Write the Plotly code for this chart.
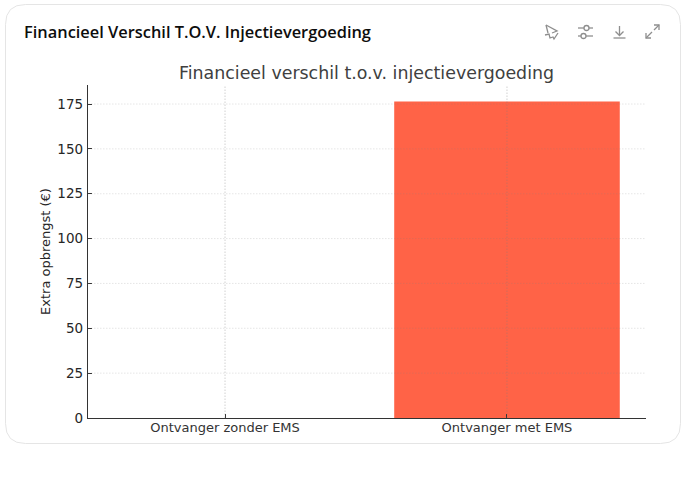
import plotly.graph_objects as go

categories = ["Ontvanger zonder EMS", "Ontvanger met EMS"]
extra_opbrengst = [0, 176.4]
y_ticks = [0, 25, 50, 75, 100, 125, 150, 175]

W, H = 686, 500
LEFT, RIGHT, TOP, BOTTOM = 88, 646, 85, 418


def px_x(x):
    return (x - LEFT) / (RIGHT - LEFT)


def px_y(y):
    return (BOTTOM - y) / (BOTTOM - TOP)


def path(points, close=False):
    s = "M " + " L ".join(f"{px_x(x):.5f},{px_y(y):.5f}" for x, y in points)
    return s + (" Z" if close else "")


def card_path(x0, y0, x1, y1, r):
    # rounded corners, quadratic is close enough here
    return (
        f"M {px_x(x0 + r):.5f},{px_y(y0):.5f} L {px_x(x1 - r):.5f},{px_y(y0):.5f} "
        f"Q {px_x(x1):.5f},{px_y(y0):.5f} {px_x(x1):.5f},{px_y(y0 + r):.5f} "
        f"L {px_x(x1):.5f},{px_y(y1 - r):.5f} "
        f"Q {px_x(x1):.5f},{px_y(y1):.5f} {px_x(x1 - r):.5f},{px_y(y1):.5f} "
        f"L {px_x(x0 + r):.5f},{px_y(y1):.5f} "
        f"Q {px_x(x0):.5f},{px_y(y1):.5f} {px_x(x0):.5f},{px_y(y1 - r):.5f} "
        f"L {px_x(x0):.5f},{px_y(y0 + r):.5f} "
        f"Q {px_x(x0):.5f},{px_y(y0):.5f} {px_x(x0 + r):.5f},{px_y(y0):.5f} Z"
    )


ICON_COLOR = "#8e8e8e"
GRID_DASH = "1.5px,1.5px"
icon_lines = [
    # chart type toggle
    [(546, 25), (557, 31), (552, 33)],
    [(546, 25), (548, 33)],
    [(545, 35), (549, 34), (550, 38), (553, 37), (554, 39), (558, 33)],
    # settings sliders
    [(578, 28), (584, 28)], [(589, 28), (593, 28)],
    [(578, 36), (581, 36)], [(586, 36), (593, 36)],
    # download
    [(619.5, 26), (619.5, 35)], [(615.5, 31.5), (619.5, 35.5), (623.5, 31.5)], [(613.5, 38), (625.5, 38)],
    # expand
    [(646, 38), (652, 32)], [(646, 33), (646, 38), (651, 38)],
    [(654, 30), (659, 25)], [(654, 25), (659, 25), (659, 30)],
]

shapes = [
    dict(type="path", xref="paper", yref="paper", path=card_path(5.5, 4.5, 680.5, 443.5, 20),
         line=dict(color="#e5e5e5", width=1), fillcolor="rgba(0,0,0,0)", layer="below"),
    # knobs of the sliders icon
    dict(type="circle", xref="paper", yref="paper", x0=px_x(584), x1=px_x(589), y0=px_y(30.5), y1=px_y(25.5),
         line=dict(color=ICON_COLOR, width=1.3)),
    dict(type="circle", xref="paper", yref="paper", x0=px_x(581), x1=px_x(586), y0=px_y(38.5), y1=px_y(33.5),
         line=dict(color=ICON_COLOR, width=1.3)),
]
# the grid runs over the bar in the reference, so shapes rather than axis grid
for c in categories:
    shapes.append(dict(type="line", xref="x", yref="paper", x0=c, x1=c, y0=0, y1=1, layer="above",
                       line=dict(color="rgba(128,128,128,0.36)", width=1, dash=GRID_DASH)))
for t in y_ticks[1:]:
    shapes.append(dict(type="line", xref="paper", yref="y", x0=0, x1=1, y0=t, y1=t, layer="above",
                       line=dict(color="rgba(128,128,128,0.25)", width=0.8, dash=GRID_DASH)))
for pts in icon_lines:
    shapes.append(dict(type="path", xref="paper", yref="paper", path=path(pts),
                       line=dict(color=ICON_COLOR, width=1.3)))

fig = go.Figure(go.Bar(x=categories, y=extra_opbrengst, width=0.8,
                       marker=dict(color="#ff6347", line=dict(width=0))))

fig.update_layout(
    width=W, height=H,
    margin=dict(l=LEFT, r=W - RIGHT, t=TOP, b=H - BOTTOM, pad=0),
    paper_bgcolor="white", plot_bgcolor="white",
    showlegend=False,
    font=dict(family="DejaVu Sans", size=13, color="#262626"),
    shapes=shapes,
    annotations=[
        dict(text="Financieel Verschil T.O.V. Injectievergoeding", xref="paper", yref="paper",
             x=px_x(22), y=px_y(32), xanchor="left", yanchor="middle", showarrow=False,
             font=dict(family="Open Sans", size=16.4, color="#0d0d0d", weight=600)),
        dict(text="Financieel verschil t.o.v. injectievergoeding", xref="paper", yref="paper",
             x=px_x(366), y=px_y(73), xanchor="center", yanchor="middle", showarrow=False,
             font=dict(family="DejaVu Sans", size=17.4, color="#404040")),
    ],
)
fig.update_xaxes(
    range=[-0.486, 1.493], showgrid=False, zeroline=False,
    showline=True, linecolor="#333333", linewidth=1.4,
    ticks="inside", ticklen=4, tickcolor="#333333", ticklabelstandoff=-3,
    tickfont=dict(size=13, color="#333333"),
)
fig.update_yaxes(
    range=[0, 185.6], tickvals=y_ticks, zeroline=False, showgrid=False,
    showline=True, linecolor="#333333", linewidth=1.4,
    ticks="inside", ticklen=4, tickcolor="#333333", ticklabelstandoff=1,
    tickfont=dict(size=13.5, color="#262626"),
    title=dict(text="Extra opbrengst (€)", font=dict(size=13, color="#262626"), standoff=3),
)

fig.write_html("out.html", config=dict(displayModeBar=False),
               post_script="document.body.style.margin='0';")
